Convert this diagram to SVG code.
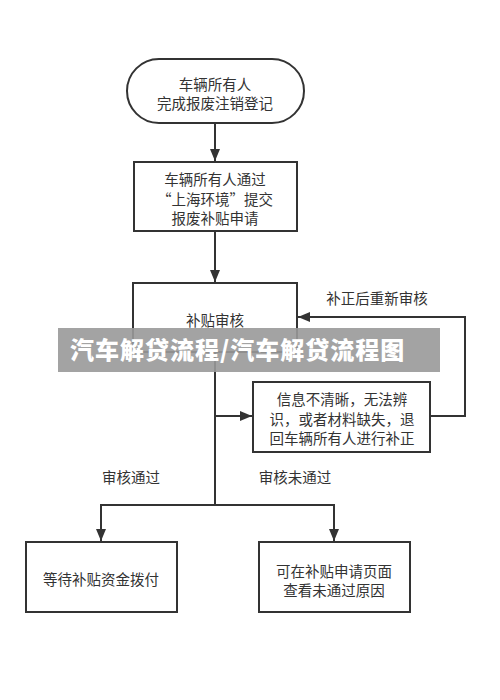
<svg xmlns="http://www.w3.org/2000/svg" width="500" height="700" viewBox="0 0 500 700">
<style>
.box{fill:#fff;stroke:#333;stroke-width:2}
.t{font-family:"Noto Sans CJK SC","Noto Sans",sans-serif;font-size:14.5px;fill:#333;text-anchor:middle;dominant-baseline:central}
.ln{fill:none;stroke:#333;stroke-width:2}
.ban{font-family:"Noto Sans CJK SC","Noto Sans",sans-serif;font-size:24px;font-weight:900;fill:#fff;letter-spacing:1px}
</style>
<defs>
<marker id="ah" viewBox="0 0 12 10" refX="12" refY="5" markerWidth="12" markerHeight="10" markerUnits="userSpaceOnUse" orient="auto">
<path d="M0,0 L12,5 L0,10 Z" fill="#333"/>
</marker>
</defs>
<rect x="0" y="0" width="500" height="700" fill="#fff"/>
<g id="connectors">
<line class="ln" x1="215" y1="123" x2="215" y2="161" marker-end="url(#ah)"/>
<line class="ln" x1="215" y1="231" x2="215" y2="282" marker-end="url(#ah)"/>
<polyline class="ln" points="215,352 215,505"/>
<line class="ln" x1="215" y1="416" x2="252" y2="416" marker-end="url(#ah)"/>
<polyline class="ln" points="430,416 465,416 465,317 298,317" marker-end="url(#ah)"/>
<polyline class="ln" points="215,505 101,505 101,541" marker-end="url(#ah)"/>
<polyline class="ln" points="215,505 334,505 334,541" marker-end="url(#ah)"/>
<text class="t" x="377" y="297">补正后重新审核</text>
<text class="t" x="131" y="476">审核通过</text>
<text class="t" x="295" y="476">审核未通过</text>
</g>
<g id="start">
<rect class="box" x="127" y="59" width="177" height="64" rx="32" ry="32"/>
<text class="t" x="215" y="83">车辆所有人</text>
<text class="t" x="215" y="102">完成报废注销登记</text>
</g>
<g id="submit">
<rect class="box" x="134" y="162" width="163" height="69"/>
<text class="t" x="215" y="178">车辆所有人通过</text>
<text class="t" x="215" y="198">“上海环境”提交</text>
<text class="t" x="215" y="217">报废补贴申请</text>
</g>
<g id="review">
<rect class="box" x="133" y="283" width="164" height="69"/>
<text class="t" x="215" y="319">补贴审核</text>
</g>
<g id="reject">
<rect class="box" x="253" y="382" width="177" height="70"/>
<text class="t" x="342" y="398">信息不清晰，无法辨</text>
<text class="t" x="342" y="418">识，或者材料缺失，退</text>
<text class="t" x="342" y="437">回车辆所有人进行补正</text>
</g>
<g id="wait">
<rect class="box" x="26" y="542" width="151" height="70"/>
<text class="t" x="101" y="578">等待补贴资金拨付</text>
</g>
<g id="fail">
<rect class="box" x="259" y="542" width="151" height="70"/>
<text class="t" x="334" y="570">可在补贴申请页面</text>
<text class="t" x="334" y="589">查看未通过原因</text>
</g>
<g id="banner">
<rect x="58" y="328" width="382" height="44" fill="#999" fill-opacity="0.9"/>
<text class="ban" x="70" y="359">汽车解贷流程/汽车解贷流程图</text>
</g>
</svg>
